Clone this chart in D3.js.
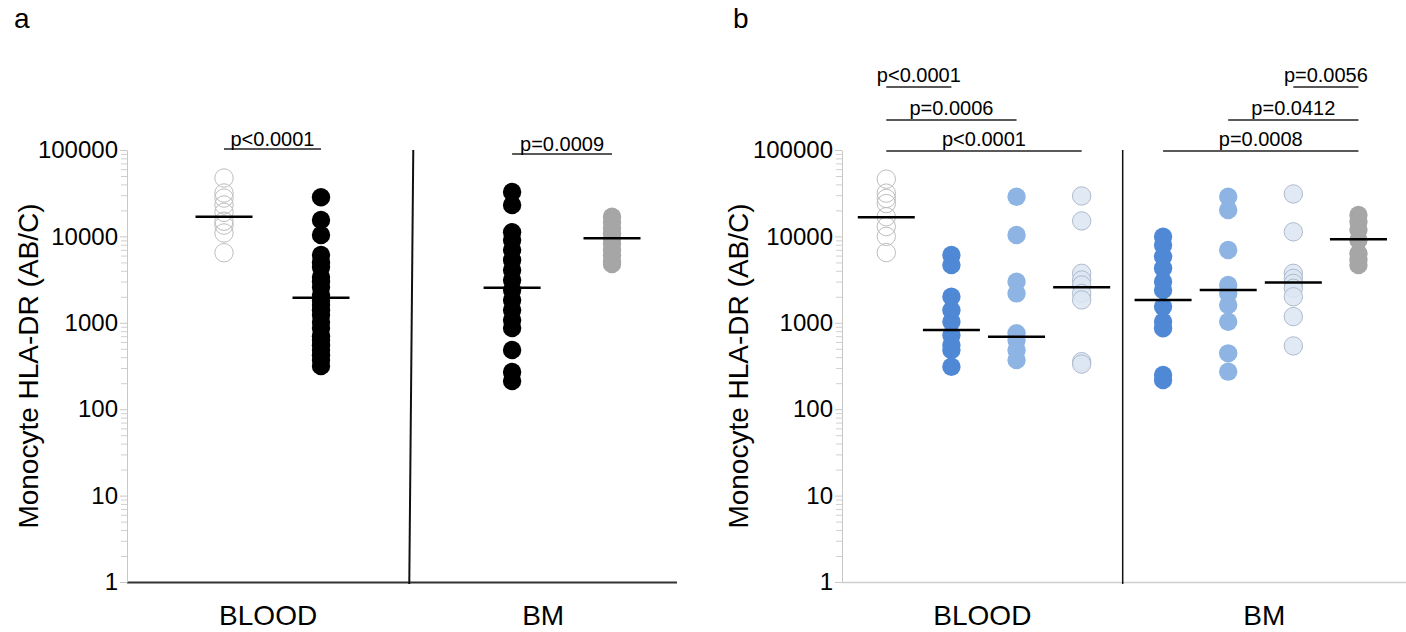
<!DOCTYPE html>
<html>
<head>
<meta charset="utf-8">
<script src="https://cdn.jsdelivr.net/npm/d3@7"></script>
<style>
body { margin: 0; background: #fff; }
text { font-family: "Liberation Sans", Arial, sans-serif; fill: #000; }
</style>
</head>
<body>
<script>
// Kategorien und Achse
var sites = ["BLOOD", "BM"];
var yTicks = [1, 10, 100, 1000, 10000, 100000];

// Panel a: Werte (AB/C) pro Gruppe
var aBloodCtrl = [47400, 31800, 27800, 23100, 19000, 15000, 13500, 10960, 6470];
var aBloodPat = [28400, 15500, 10400, 6100, 5000, 4430, 3390, 3000, 2600, 2100, 1800, 1610, 1400, 1230, 1020, 870, 700, 632, 550, 484, 420, 371, 316];
var aBmPat = [32700, 23100, 11200, 9080, 6960, 5330, 4080, 3130, 2400, 1840, 1410, 1080, 870, 484, 269, 212];
var aBmCtrl = [16900, 14500, 12500, 10800, 9500, 8200, 7000, 6000, 5200, 4800];
var aMedians = [16900, 1950, 2550, 9500];
var aPvals = ["p<0.0001", "p=0.0009"];

// Panel b: Werte pro Gruppe
var bBloodCtrl = [46000, 31700, 27500, 24000, 16900, 13000, 10000, 6500];
var bBlood1 = [6100, 4670, 2000, 1400, 1030, 722, 553, 484, 310];
var bBlood2 = [28800, 10400, 2990, 2190, 756, 633, 484, 371];
var bBlood3 = [29400, 15100, 3740, 3130, 2740, 2190, 1840, 355, 333];
var bBm1 = [9900, 7960, 5820, 4270, 2990, 2400, 1530, 1030, 863, 249, 218];
var bBm2 = [28800, 20200, 6970, 2740, 2190, 1610, 1030, 443, 272];
var bBm3 = [31000, 11300, 3740, 3270, 2860, 2510, 2000, 1180, 540];
var bBmCtrl = [17700, 14800, 11900, 9080, 6340, 5330, 4670];
var bMedians = [16700, 826, 690, 2580, 1840, 2400, 2920, 9250];
var bPvals = ["p<0.0001", "p=0.0006", "p<0.0001", "p=0.0008", "p=0.0412", "p=0.0056"];

// Farben / Stil der Punkte
var styles = {
  open:  { fill: "none", stroke: "#bdbdbd", op: 1 },
  black: { fill: "#000", stroke: "none", op: 1 },
  grey:  { fill: "#a6a6a6", stroke: "none", op: 1 },
  dark:  { fill: "#4f89d6", stroke: "none", op: 1 },
  mid:   { fill: "#8db4e2", stroke: "none", op: 1 },
  light: { fill: "#dce6f2", stroke: "#aebbcc", op: 0.85 }
};

var W = 1406, H = 632;
var svg = d3.select("body").append("svg")
  .attr("width", W)
  .attr("height", H);

// y-Skala (log), gleich fuer beide Panels
var yScale = d3.scaleLog()
  .domain([1, 100000])
  .range([582, 150]);

// kleine Ticks 2..9 pro Dekade
var minorTicks = [];
yTicks.slice(0, -1).forEach(function (d) {
  for (var k = 2; k < 10; k++) minorTicks.push(d * k);
});

var panels = [
  {
    letter: "a", letterX: 14, axisX: 127, endX: 677, titleX: 38,
    domain: [-1, 4.67], slots: [0, 1, 2.97, 4], divSlot: 1.91, divTilt: 4, divWidth: 2,
    series: [aBloodCtrl, aBloodPat, aBmPat, aBmCtrl],
    look: ["open", "black", "black", "grey"],
    medians: aMedians, pvals: aPvals,
    pairs: [[0, 1], [2, 3]], levels: [149, 154], labelLift: 3.5,
    baseColor: "#333", baseWidth: 2
  },
  {
    letter: "b", letterX: 733, axisX: 842, endX: 1406, titleX: 748,
    domain: [-0.68, 7.98], slots: [0, 1, 2, 3, 4.25, 5.25, 6.25, 7.25], divSlot: 3.63, divTilt: 0, divWidth: 1.5,
    series: [bBloodCtrl, bBlood1, bBlood2, bBlood3, bBm1, bBm2, bBm3, bBmCtrl],
    look: ["open", "dark", "mid", "light", "dark", "mid", "light", "grey"],
    medians: bMedians, pvals: bPvals,
    pairs: [[0, 1], [0, 2], [0, 3], [4, 7], [5, 7], [6, 7]], levels: [87, 120, 151, 151, 120, 87], labelLift: 5.5,
    baseColor: "#cfcfcf", baseWidth: 1.5
  }
];

panels.forEach(function (p) {
  var g = svg.append("g");

  // x-Skala ueber Slots
  var xScale = d3.scaleLinear()
    .domain(p.domain)
    .range([p.axisX, p.endX]);

  // Buchstabe
  g.append("text")
    .attr("x", p.letterX).attr("y", 28)
    .attr("font-size", 28)
    .text(p.letter);

  // Grundlinie unten
  g.append("line")
    .attr("x1", p.axisX).attr("x2", p.endX)
    .attr("y1", yScale(1) + 0.5).attr("y2", yScale(1) + 0.5)
    .attr("stroke", p.baseColor).attr("stroke-width", p.baseWidth);

  // Y Achse (grau) mit kleinen Ticks
  var minor = g.append("g")
    .attr("transform", "translate(" + p.axisX + ",0)")
    .call(d3.axisLeft(yScale).tickValues(minorTicks).tickFormat("").tickSize(6).tickSizeOuter(0));
  minor.select(".domain").remove();
  minor.selectAll("line").attr("stroke", "#d0d0d0");

  var ax = g.append("g")
    .attr("transform", "translate(" + p.axisX + ",0)")
    .call(d3.axisLeft(yScale).tickValues(yTicks).tickFormat(d3.format("d")).tickSize(7).tickPadding(2).tickSizeOuter(0));
  ax.select(".domain").attr("stroke", "#c8c8c8");
  ax.selectAll("line").attr("stroke", "#c8c8c8");
  ax.selectAll("text").attr("font-size", 24).attr("fill", "#000")
    .attr("font-family", "'Liberation Sans', Arial, sans-serif");

  // Achsentitel
  g.append("text")
    .attr("transform", "rotate(-90)")
    .attr("x", -(yScale(1) + yScale(100000)) / 2)
    .attr("y", p.titleX)
    .attr("text-anchor", "middle")
    .attr("font-size", 28)
    .text("Monocyte HLA-DR (AB/C)");

  // Trennlinie BLOOD | BM
  var xd = xScale(p.divSlot);
  g.append("line")
    .attr("x1", xd + p.divTilt).attr("y1", yScale(100000))
    .attr("x2", xd).attr("y2", yScale(1) + 2)
    .attr("stroke", "#111").attr("stroke-width", p.divWidth);

  // Kategorie-Beschriftung
  var mids = [(p.domain[0] + p.divSlot) / 2, (p.divSlot + p.domain[1]) / 2];
  g.selectAll(".site")
    .data(sites)
    .enter().append("text")
    .attr("class", "site")
    .attr("x", function (d, i) { return xScale(mids[i]); })
    .attr("y", 625)
    .attr("text-anchor", "middle")
    .attr("font-size", 28)
    .text(function (d) { return d; });

  // Punkte
  p.series.forEach(function (vals, i) {
    var st = styles[p.look[i]];
    g.selectAll(".dot" + i)
      .data(vals)
      .enter().append("circle")
      .attr("class", "dot" + i)
      .attr("cx", xScale(p.slots[i]))
      .attr("cy", function (d) { return yScale(d); })
      .attr("r", 9.2)
      .attr("fill", st.fill)
      .attr("fill-opacity", st.op)
      .attr("stroke", st.stroke)
      .attr("stroke-width", 1);
  });

  // Median-Striche
  g.selectAll(".median")
    .data(p.medians)
    .enter().append("line")
    .attr("class", "median")
    .attr("x1", function (d, i) { return xScale(p.slots[i]) - 28.5; })
    .attr("x2", function (d, i) { return xScale(p.slots[i]) + 28.5; })
    .attr("y1", function (d) { return yScale(d); })
    .attr("y2", function (d) { return yScale(d); })
    .attr("stroke", "#000").attr("stroke-width", 2.5);

  // p-Werte mit Klammern
  var br = g.selectAll(".br")
    .data(p.pvals)
    .enter().append("g")
    .attr("class", "br");
  br.append("line")
    .attr("x1", function (d, i) { return xScale(p.slots[p.pairs[i][0]]); })
    .attr("x2", function (d, i) { return xScale(p.slots[p.pairs[i][1]]); })
    .attr("y1", function (d, i) { return p.levels[i]; })
    .attr("y2", function (d, i) { return p.levels[i]; })
    .attr("stroke", "#222").attr("stroke-width", 1.5);
  br.append("text")
    .attr("x", function (d, i) {
      return (xScale(p.slots[p.pairs[i][0]]) + xScale(p.slots[p.pairs[i][1]])) / 2;
    })
    .attr("y", function (d, i) { return p.levels[i] - p.labelLift; })
    .attr("text-anchor", "middle")
    .attr("font-size", 20)
    .text(function (d) { return d; });
});
</script>
</body>
</html>
